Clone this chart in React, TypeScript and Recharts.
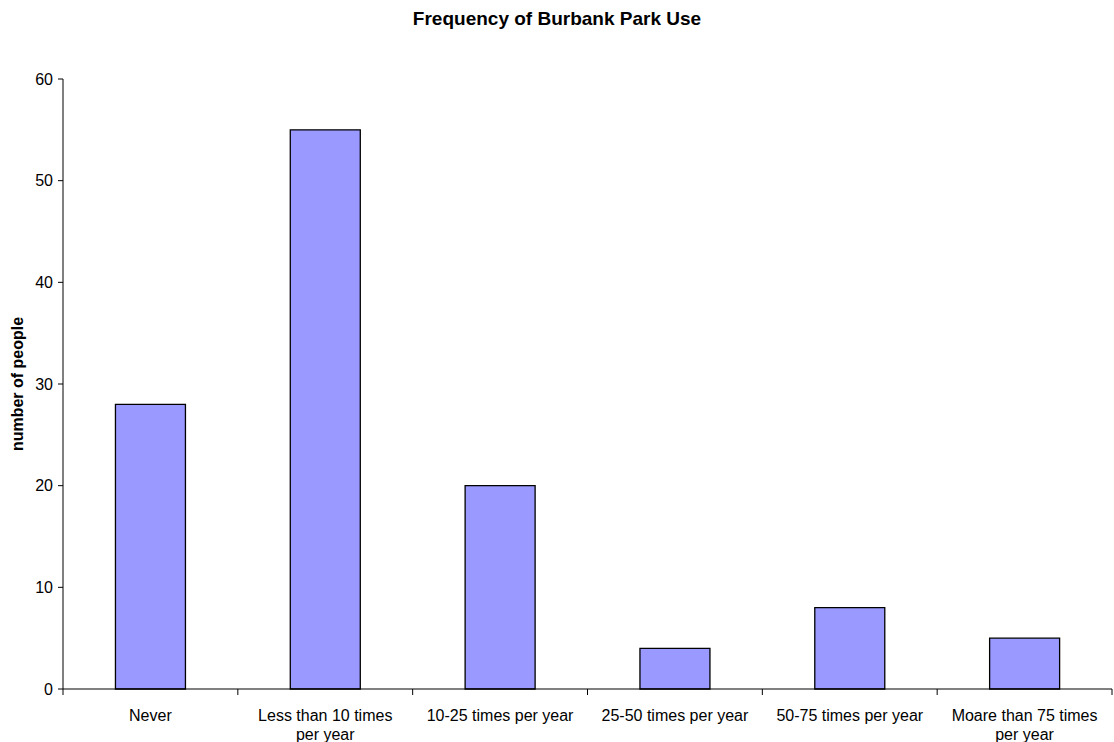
import React from "react";
import { BarChart, Bar, XAxis, YAxis, Label } from "recharts";

const categories = [
  "Never",
  "Less than 10 times per year",
  "10-25 times per year",
  "25-50 times per year",
  "50-75 times per year",
  "Moare than 75 times per year",
];
const categoryLines = [
  ["Never"],
  ["Less than 10 times", "per year"],
  ["10-25 times per year"],
  ["25-50 times per year"],
  ["50-75 times per year"],
  ["Moare than 75 times", "per year"],
];
const people = [28, 55, 20, 4, 8, 5];
const yTicks = [0, 10, 20, 30, 40, 50, 60];

const data = categories.map((c, i) => ({ category: c, people: people[i] }));

const FONT = 'Arial, "Liberation Sans", sans-serif';

// Category label plus tick marks on the band edges (Excel-style)
function CategoryTick({ x, y, index, payload }: any) {
  const lines = categoryLines[index] ?? [];
  const half = payload?.offset ?? 0;
  const axisY = y - 8;
  return (
    <g>
      {index === 0 && (
        <line x1={x - half} x2={x - half} y1={axisY} y2={axisY + 6} stroke="#000" />
      )}
      <line x1={x + half} x2={x + half} y1={axisY} y2={axisY + 6} stroke="#000" />
      <text x={x} y={y} textAnchor="middle" fill="#000" fontSize={16} fontFamily={FONT}>
        {lines.map((l, i) => (
          <tspan key={i} x={x} dy={i === 0 ? 24 : 19}>
            {l}
          </tspan>
        ))}
      </text>
    </g>
  );
}

export default function App() {
  return (
    <div
      style={{
        position: "absolute",
        left: 0,
        top: 0,
        width: 1114,
        height: 742,
        background: "#fff",
        fontFamily: FONT,
      }}
    >
      <div
        style={{
          position: "absolute",
          left: 0,
          top: 8,
          width: 1114,
          textAlign: "center",
          fontWeight: "bold",
          fontSize: 19,
          color: "#000",
        }}
      >
        Frequency of Burbank Park Use
      </div>
      <BarChart
        width={1114}
        height={742}
        data={data}
        margin={{ top: 79, right: 2, left: 0, bottom: 0 }}
        barCategoryGap="30%"
      >
        <XAxis
          dataKey="category"
          height={53}
          axisLine={{ stroke: "#000" }}
          tickLine={false}
          tickSize={6}
          tickMargin={2}
          interval={0}
          tick={<CategoryTick />}
        />
        <YAxis
          width={63}
          domain={[0, 60]}
          ticks={yTicks}
          interval={0}
          tickSize={5}
          tickMargin={5}
          axisLine={{ stroke: "#000" }}
          tickLine={{ stroke: "#000" }}
          tick={{ fill: "#000", fontSize: 16, fontFamily: FONT }}
        >
          <Label
            value="number of people"
            angle={-90}
            position="center"
            dx={-14}
            style={{ fontWeight: "bold", fontSize: 16, fontFamily: FONT, fill: "#000" }}
          />
        </YAxis>
        <Bar
          dataKey="people"
          fill="#9999FF"
          stroke="#000"
          strokeWidth={1.3}
          isAnimationActive={false}
        />
      </BarChart>
    </div>
  );
}
